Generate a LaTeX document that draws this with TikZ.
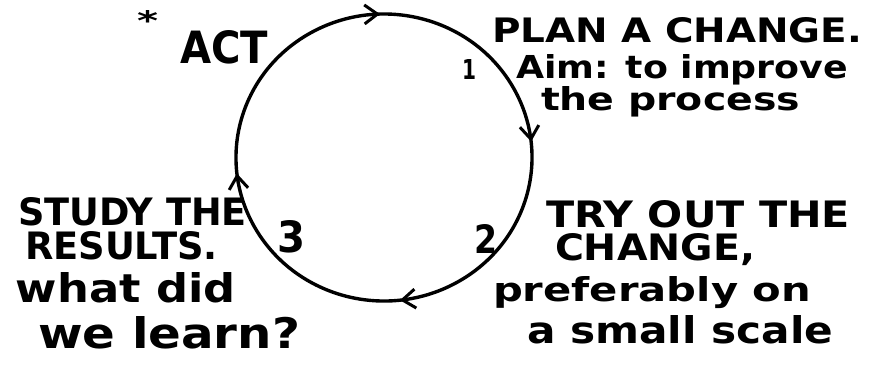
\documentclass[tikz,border=0pt]{standalone}
\usepackage{fontspec}
\setmainfont{DejaVu Sans}
\usetikzlibrary{arrows.meta,decorations.markings}
\newcommand{\fitbox}[3]{\resizebox{#1pt}{#2pt}{#3}}
\begin{document}
\begin{tikzpicture}[x=1pt,y=-1pt,
  lbl/.style={anchor=base west, inner sep=0pt, outer sep=0pt, font=\bfseries},
  barb/.tip={Straight Barb[length=13pt,width=19pt,line width=3pt]},
  cyclepath/.style={line width=3.4pt, line cap=round,
    decoration={markings,
      mark=at position 0.080 with {\arrow{barb}},
      mark=at position 0.317 with {\arrow{barb}},
      mark=at position 0.567 with {\arrow{barb}},
      mark=at position 0.817 with {\arrow{barb}}},
    postaction={decorate}}]
\useasboundingbox (0,0) rectangle (882,365);
\fill[white] (0,0) rectangle (882,365);
% the cycle
\coordinate (c) at (384,157.5);
\draw[cyclepath] (c) ++(-120:148 and 143.5)
  arc[start angle=-120, end angle=240, x radius=148, y radius=143.5];
% top left
\node[lbl] (star) at (137,30) {\fitbox{21}{20}{*}};
\node[lbl] (act) at (180,63) {\fitbox{88}{33}{ACT}};
% plan
\node[lbl] (plan1) at (492,42) {\fitbox{370}{25}{PLAN A CHANGE.}};
\node[lbl] (plan2) at (516,78) {\fitbox{332}{24}{Aim: to improve}};
\node[lbl] (plan3) at (541,110) {\fitbox{259}{24}{the process}};
\node[lbl] (n1) at (462,79) {\fitbox{14}{20}{1}};
% do
\node[lbl] (do1) at (546,227) {\fitbox{304}{27}{TRY OUT THE}};
\node[lbl] (do2) at (555,260) {\fitbox{200}{27}{CHANGE,}};
\node[lbl] (do3) at (493,301) {\fitbox{318}{25}{preferably on}};
\node[lbl] (do4) at (527,343) {\fitbox{306}{28}{a small scale}};
\node[lbl] (n2) at (474,253) {\fitbox{23}{29}{2}};
% study
\node[lbl] (st1) at (18,225) {\fitbox{229}{28}{STUDY THE}};
\node[lbl] (st2) at (25,259) {\fitbox{193}{28}{RESULTS.}};
\node[lbl] (st3) at (16,302) {\fitbox{220}{30}{what did}};
\node[lbl] (st4) at (38,348) {\fitbox{262}{32}{we learn?}};
\node[lbl] (n3) at (277,252) {\fitbox{28}{32}{3}};
\end{tikzpicture}
\end{document}
